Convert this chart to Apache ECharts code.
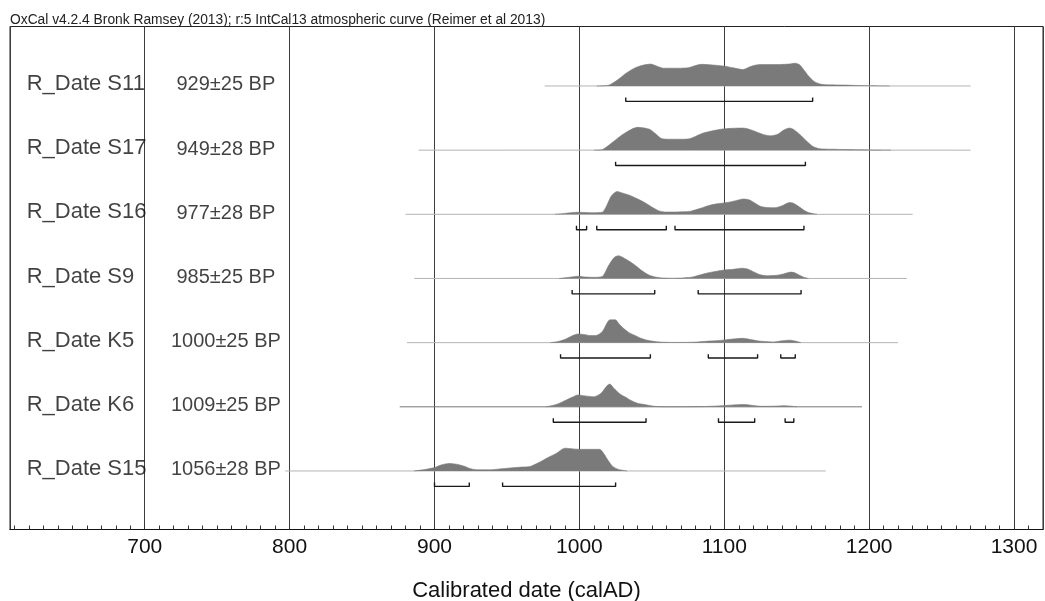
<!DOCTYPE html>
<html><head><meta charset="utf-8">
<script src="https://cdn.jsdelivr.net/npm/echarts@6/dist/echarts.min.js"></script>
<style>html,body{margin:0;padding:0;background:#fff;}#c{width:1045px;height:601px;}</style>
</head><body><div id="c"></div>
<script>
const titleText = "OxCal v4.2.4 Bronk Ramsey (2013); r:5 IntCal13 atmospheric curve (Reimer et al 2013)";
const axisTitle = "Calibrated date (calAD)";
const sampleNames = ["R_Date S11","R_Date S17","R_Date S16","R_Date S9","R_Date K5","R_Date K6","R_Date S15"];
const bpLabels = ["929±25 BP","949±28 BP","977±28 BP","985±25 BP","1000±25 BP","1009±25 BP","1056±28 BP"];
const majorTicks = [700,800,900,1000,1100,1200,1300];
const minorTicks = [610,620,630,640,650,660,670,680,690,700,710,720,730,740,750,760,770,780,790,800,810,820,830,840,850,860,870,880,890,900,910,920,930,940,950,960,970,980,990,1000,1010,1020,1030,1040,1050,1060,1070,1080,1090,1100,1110,1120,1130,1140,1150,1160,1170,1180,1190,1200,1210,1220,1230,1240,1250,1260,1270,1280,1290,1300,1310];

// ranges of the thin baseline under each distribution (calAD)
const rangeS11 = [976,1270];
const rangeS17 = [889,1270];
const rangeS16 = [880,1230];
const rangeS9  = [886,1226];
const rangeK5  = [881,1220];
const rangeK6  = [876,1195];
const rangeS15 = [797,1170];

// relative probability (peak = 1)
const densS11 = [[1012,0],[1020,0.03],[1026,0.25],[1032,0.55],[1038,0.78],[1043,0.9],[1049,0.96],[1054,0.86],[1058,0.78],[1066,0.78],[1075,0.8],[1084,0.95],[1092,0.92],[1099,0.88],[1106,0.8],[1113,0.72],[1118,0.85],[1123,0.93],[1130,0.94],[1137,0.94],[1144,0.96],[1149,1.0],[1152,0.93],[1155,0.7],[1158,0.45],[1162,0.2],[1166,0.09],[1171,0.05],[1177,0.045],[1183,0.04],[1190,0.025],[1199,0.015],[1214,0]];
const densS17 = [[1010,0],[1016,0.03],[1022,0.3],[1028,0.6],[1034,0.85],[1040,1.0],[1045,0.97],[1049,0.9],[1053,0.7],[1057,0.5],[1064,0.48],[1071,0.48],[1076,0.5],[1080,0.6],[1085,0.74],[1092,0.85],[1099,0.93],[1106,0.96],[1113,0.97],[1118,0.9],[1123,0.78],[1128,0.67],[1132,0.63],[1137,0.7],[1141,0.88],[1145,0.97],[1148,0.9],[1152,0.7],[1156,0.45],[1161,0.17],[1165,0.07],[1168,0.05],[1175,0.04],[1185,0.025],[1200,0.01],[1215,0]];
const densS16 = [[983,0],[990,0.04],[998,0.09],[1004,0.08],[1010,0.07],[1016,0.1],[1019,0.4],[1022,0.8],[1026,1.0],[1030,0.93],[1035,0.83],[1040,0.68],[1045,0.52],[1050,0.32],[1055,0.15],[1060,0.1],[1065,0.1],[1071,0.11],[1077,0.14],[1083,0.25],[1089,0.38],[1095,0.46],[1102,0.52],[1108,0.6],[1113,0.67],[1117,0.64],[1121,0.5],[1125,0.35],[1129,0.3],[1135,0.29],[1140,0.38],[1145,0.52],[1148,0.48],[1151,0.36],[1155,0.18],[1158,0.08],[1164,0]];
const densS9  = [[986,0],[993,0.05],[999,0.1],[1005,0.06],[1010,0.05],[1016,0.1],[1020,0.55],[1024,0.92],[1027,1.0],[1032,0.85],[1038,0.6],[1043,0.35],[1048,0.15],[1052,0.07],[1058,0.02],[1065,0.01],[1077,0.05],[1083,0.15],[1089,0.25],[1095,0.32],[1100,0.37],[1106,0.4],[1112,0.45],[1116,0.42],[1120,0.3],[1125,0.16],[1129,0.12],[1136,0.14],[1141,0.2],[1146,0.28],[1149,0.24],[1152,0.14],[1155,0.05],[1158,0]];
const densK5  = [[980,0],[986,0.06],[991,0.17],[995,0.3],[999,0.38],[1003,0.36],[1008,0.31],[1012,0.32],[1016,0.5],[1019,0.85],[1021,1.0],[1025,1.0],[1027,0.85],[1030,0.65],[1034,0.45],[1038,0.33],[1043,0.18],[1048,0.09],[1055,0.03],[1065,0.01],[1079,0.02],[1090,0.07],[1099,0.11],[1106,0.16],[1113,0.19],[1118,0.14],[1124,0.07],[1134,0.03],[1140,0.08],[1145,0.11],[1149,0.07],[1153,0]];
const densK6  = [[977,0],[984,0.1],[991,0.3],[995,0.42],[999,0.52],[1004,0.48],[1010,0.44],[1015,0.6],[1019,0.92],[1021,1.0],[1024,0.8],[1028,0.56],[1032,0.42],[1035,0.3],[1040,0.16],[1045,0.1],[1052,0.02],[1060,0],[1085,0.01],[1099,0.05],[1106,0.08],[1113,0.1],[1120,0.06],[1126,0.02],[1135,0.03],[1141,0.05],[1146,0.03],[1150,0]];
const densS15 = [[886,0],[893,0.06],[900,0.15],[905,0.27],[910,0.33],[915,0.3],[920,0.22],[925,0.1],[930,0.05],[938,0.05],[945,0.09],[952,0.13],[960,0.17],[966,0.2],[972,0.37],[978,0.58],[984,0.77],[990,1.0],[996,0.97],[1001,0.95],[1008,0.95],[1014,0.95],[1017,0.75],[1020,0.45],[1023,0.2],[1027,0.07],[1033,0]];

// 95.4% ranges
const bracketsS11 = [[1032,1161]];
const bracketsS17 = [[1025,1156]];
const bracketsS16 = [[998,1005],[1012,1060],[1066,1155]];
const bracketsS9  = [[995,1052],[1082,1153]];
const bracketsK5  = [[987,1049],[1089,1123],[1139,1149]];
const bracketsK6  = [[982,1046],[1096,1121],[1142,1148]];
const bracketsS15 = [[900,924],[947,1025]];

const ranges = [rangeS11,rangeS17,rangeS16,rangeS9,rangeK5,rangeK6,rangeS15];
const dens = [densS11,densS17,densS16,densS9,densK5,densK6,densS15];
const brackets = [bracketsS11,bracketsS17,bracketsS16,bracketsS9,bracketsK5,bracketsK6,bracketsS15];

// layout constants (not data)
const PEAK = 0.355;     // peak height in row units
const BR_OFF = 0.24;    // bracket offset below baseline
const BR_TICK = 0.06;   // bracket end tick height
const NAME_X = 618.5;   // calAD position of sample names
const BP_X = 756;       // calAD position of BP centre
const FONT = "'Liberation Sans', Arial, sans-serif";

const series = [];
const nRows = sampleNames.length;
for (let i = 0; i < nRows; i++) {
  const row = nRows - 1 - i;
  series.push({
    type: 'line', silent: true, symbol: 'none', z: 1,
    data: [[ranges[i][0], row], [ranges[i][1], row]],
    lineStyle: { color: i === 5 ? '#777' : '#b4b4b4', width: 1 }
  });
  series.push({
    type: 'line', silent: true, symbol: 'none', z: 2, smooth: 0.25,
    data: dens[i].map(p => [p[0], row + p[1] * PEAK]),
    lineStyle: { color: '#7a7a7a', width: 0.6 },
    areaStyle: { origin: row, color: '#7a7a7a', opacity: 1 }
  });
  brackets[i].forEach(b => {
    const yb = row - BR_OFF;
    series.push({
      type: 'line', silent: true, symbol: 'none', z: 3,
      data: [[b[0], yb + BR_TICK], [b[0], yb], [b[1], yb], [b[1], yb + BR_TICK]],
      lineStyle: { color: '#1a1a1a', width: 1.4 }
    });
  });
}
series.push({
  type: 'scatter', silent: true, symbolSize: 0, z: 5,
  data: sampleNames.map((n, i) => ({ name: n, value: [NAME_X, nRows - 1 - i] })),
  label: { show: true, position: 'inside', align: 'left', verticalAlign: 'middle', offset: [0, -2],
    formatter: '{b}', fontFamily: FONT, fontSize: 22, color: '#111' }
});
series.push({
  type: 'scatter', silent: true, symbolSize: 0, z: 5,
  data: bpLabels.map((n, i) => ({ name: n, value: [BP_X, nRows - 1 - i] })),
  label: { show: true, position: 'inside', align: 'center', verticalAlign: 'middle', offset: [0, -1],
    formatter: '{b}', fontFamily: FONT, fontSize: 20, color: '#111' }
});

const chart = echarts.init(document.getElementById('c'), null, { renderer: 'canvas' });
chart.setOption({
  animation: false,
  backgroundColor: '#fff',
  title: { text: titleText, left: 10, top: 13, padding: 0,
    textStyle: { fontFamily: FONT, fontSize: 13.8, fontWeight: 'normal', color: '#222' } },
  grid: { left: 10, right: 2, top: 26.5, bottom: 71.5, show: true, borderColor: '#222', borderWidth: 1,
    backgroundColor: 'transparent', containLabel: false, outerBoundsMode: 'none' },
  xAxis: [{
    type: 'value', min: 607, max: 1320, minInterval: 100, maxInterval: 100, position: 'bottom',
    axisLine: { show: true, onZero: false, lineStyle: { color: '#111', width: 1.2 } },
    axisTick: { show: false },
    splitLine: { show: true, lineStyle: { color: '#3c3c3c', width: 1 } },
    axisLabel: { show: true, showMinLabel: false, showMaxLabel: false, margin: 7,
      formatter: v => (majorTicks.indexOf(v) >= 0 ? String(v) : ''),
      fontFamily: FONT, fontSize: 21, color: '#111' },
    name: axisTitle, nameLocation: 'middle', nameGap: 50,
    nameTextStyle: { fontFamily: FONT, fontSize: 22, color: '#111' }
  }, {
    type: 'value', min: 607, max: 1320, position: 'bottom',
    axisLine: { show: false, onZero: false }, axisLabel: { show: false }, splitLine: { show: false },
    axisTick: { show: true, inside: true, length: 4, customValues: minorTicks, lineStyle: { color: '#333', width: 1 } }
  }],
  yAxis: { type: 'value', min: -0.912, max: 6.927, show: false, splitLine: { show: false } },
  series: series
});
</script></body></html>
